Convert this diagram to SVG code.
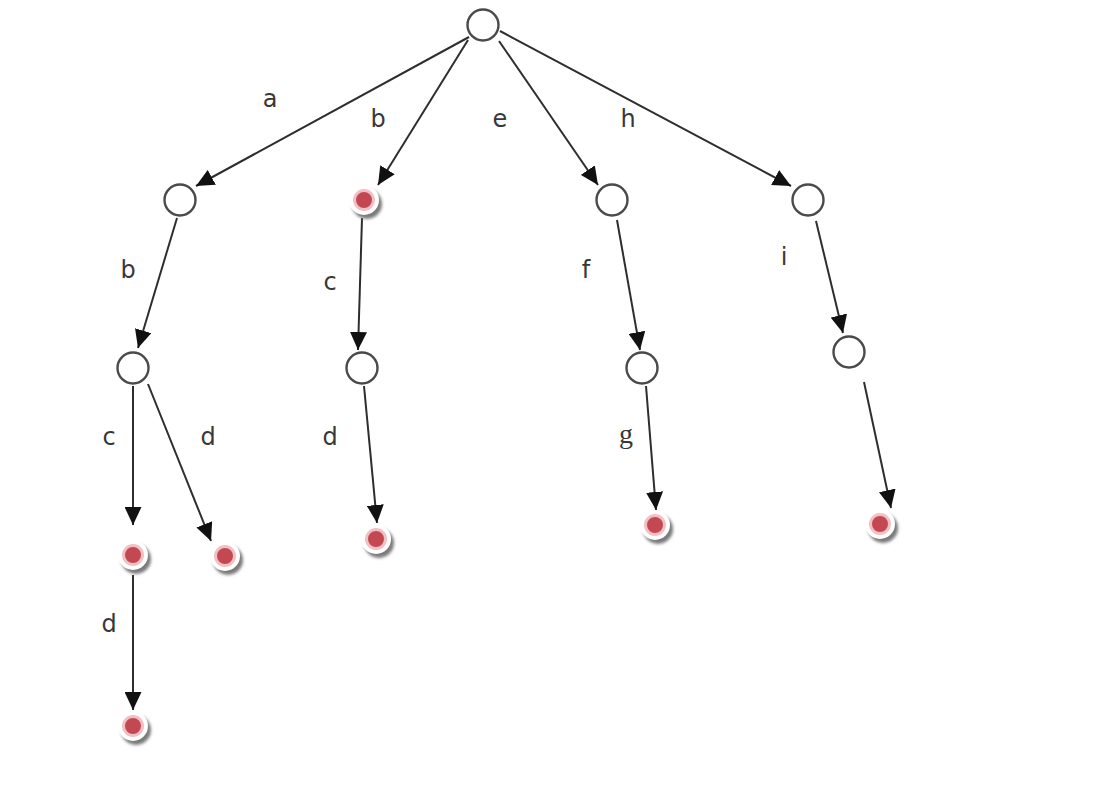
<svg xmlns="http://www.w3.org/2000/svg" width="1098" height="788" viewBox="0 0 1098 788">
<style>
.open{fill:#fff;stroke:#4a4a4a;stroke-width:2.4}
.edge{stroke:#2e2e2e;stroke-width:2;fill:none;marker-end:url(#ah)}
.lbl{font-family:"DejaVu Sans",sans-serif;font-size:24px;fill:#383838;text-anchor:middle}
.ser{font-family:"Liberation Serif",serif;font-size:28px;fill:#383838;text-anchor:middle}
.sh{fill:#7a7a7a;filter:url(#blur)}
.disc{fill:#fff}
.dot{fill:#c44852;stroke:#f0c0c5;stroke-width:3}
</style>
<defs>
<marker id="ah" markerUnits="userSpaceOnUse" markerWidth="19" markerHeight="17" refX="18" refY="8.5" orient="auto">
<path d="M0,0 L18,8.5 L0,17 z" fill="#111"/>
</marker>
<filter id="blur" x="-50%" y="-50%" width="200%" height="200%"><feGaussianBlur stdDeviation="1.8"/></filter>
<g id="red">
<circle class="sh" cx="3" cy="4" r="15"/>
<circle class="disc" cx="0" cy="0" r="15"/>
<circle class="dot" cx="0" cy="0" r="9.5"/>
</g>
</defs>
<rect width="1098" height="788" fill="#fff"/>
<g id="connectors">
<line class="edge" x1="469" y1="37" x2="196" y2="186"/>
<line class="edge" x1="468" y1="40" x2="378" y2="185"/>
<line class="edge" x1="499" y1="41" x2="598" y2="185"/>
<line class="edge" x1="500" y1="31" x2="791" y2="186"/>
<line class="edge" x1="177" y1="218" x2="138" y2="348"/>
<line class="edge" x1="133" y1="386" x2="133" y2="525"/>
<line class="edge" x1="148" y1="384" x2="211" y2="541"/>
<line class="edge" x1="133" y1="575" x2="133" y2="710"/>
<line class="edge" x1="362" y1="218" x2="358" y2="350"/>
<line class="edge" x1="364" y1="386" x2="377" y2="523"/>
<line class="edge" x1="617" y1="220" x2="640" y2="350"/>
<line class="edge" x1="646" y1="386" x2="656" y2="510"/>
<line class="edge" x1="816" y1="221" x2="843" y2="333"/>
<line class="edge" x1="864" y1="382" x2="891" y2="508"/>
</g>
<g id="labels">
<text class="lbl" x="270" y="107">a</text>
<text class="lbl" x="378" y="127">b</text>
<text class="lbl" x="500" y="127">e</text>
<text class="lbl" x="628" y="127">h</text>
<text class="lbl" x="128" y="278">b</text>
<text class="lbl" x="330" y="290">c</text>
<text class="lbl" x="586" y="278">f</text>
<text class="lbl" x="784" y="265">i</text>
<text class="lbl" x="109" y="445">c</text>
<text class="lbl" x="208" y="445">d</text>
<text class="lbl" x="330" y="445">d</text>
<text class="ser" x="626" y="443">g</text>
<text class="lbl" x="109" y="632">d</text>
</g>
<g id="n-root"><circle class="open" cx="483" cy="25" r="15.5"/></g>
<g id="n-1"><circle class="open" cx="180" cy="200" r="15.5"/></g>
<g id="n-2"><use href="#red" x="364" y="200"/></g>
<g id="n-3"><circle class="open" cx="612" cy="200" r="15.5"/></g>
<g id="n-4"><circle class="open" cx="808" cy="200" r="15.5"/></g>
<g id="n-5"><circle class="open" cx="133" cy="368" r="15.5"/></g>
<g id="n-6"><circle class="open" cx="362" cy="368" r="15.5"/></g>
<g id="n-7"><circle class="open" cx="642" cy="368" r="15.5"/></g>
<g id="n-8"><circle class="open" cx="849" cy="352" r="15.5"/></g>
<g id="n-9"><use href="#red" x="133" y="555"/></g>
<g id="n-10"><use href="#red" x="225" y="556"/></g>
<g id="n-11"><use href="#red" x="376" y="539"/></g>
<g id="n-12"><use href="#red" x="655" y="525"/></g>
<g id="n-13"><use href="#red" x="880" y="524"/></g>
<g id="n-14"><use href="#red" x="133" y="726"/></g>
</svg>
